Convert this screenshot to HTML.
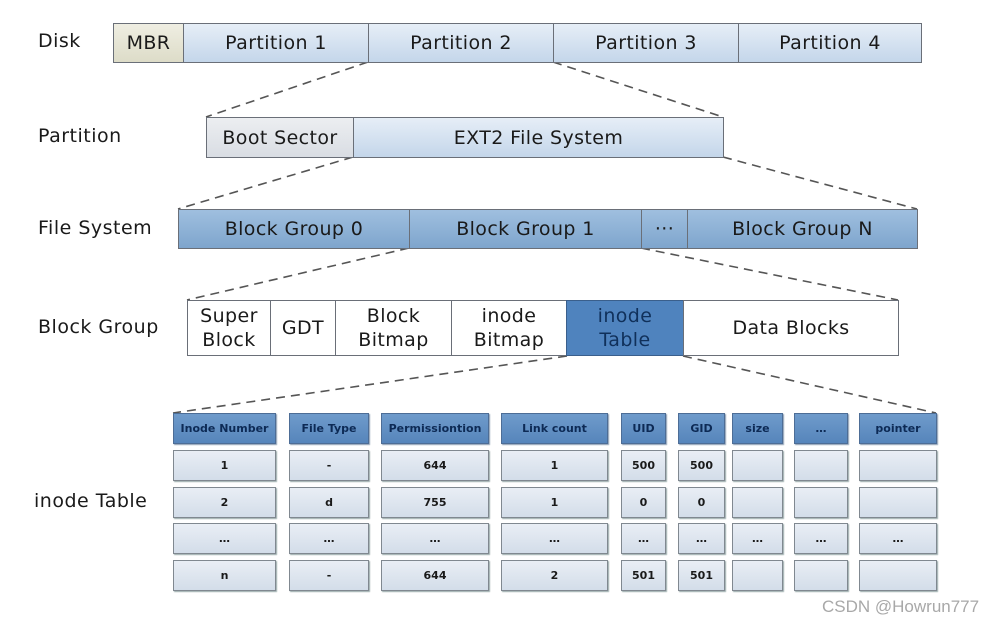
<!DOCTYPE html>
<html><head><meta charset="utf-8"><style>
html,body{margin:0;padding:0;background:#fff;}
body{width:991px;height:625px;position:relative;overflow:hidden;font-family:"DejaVu Sans","Liberation Sans",sans-serif;}
.b{position:absolute;box-sizing:border-box;border:1px solid #6a6f78;display:flex;align-items:center;justify-content:center;text-align:center;color:#1a1a1a;font-size:19px;letter-spacing:0.4px;line-height:24px;}
.lb{position:absolute;font-size:19px;letter-spacing:0.5px;color:#1a1a1a;}
.p{background:linear-gradient(#e6eef7,#c4d6ea);}
.fs{background:linear-gradient(#9fbfdf,#7ea5cd);}
.w{background:#fff;font-size:19px;}
.h{background:linear-gradient(#6f9bcb,#5685bb);font-size:11px;letter-spacing:0;font-weight:bold;color:#0d2a55;border-color:#4d6d96;box-shadow:1px 1px 1px #8a9bb0;}
.c{background:linear-gradient(#e9eef5,#d3dde9);font-size:11px;letter-spacing:0;font-weight:bold;color:#1a1a1a;border-color:#808890;box-shadow:1px 1px 1px #9aa;}
</style></head><body>
<svg width="991" height="625" style="position:absolute;left:0;top:0">
<g stroke="#555" stroke-width="1.6" stroke-dasharray="9,6" fill="none">
<line x1="368" y1="62" x2="206" y2="117"/><line x1="553" y1="62" x2="723" y2="117"/>
<line x1="353" y1="157" x2="178" y2="209"/><line x1="723" y1="157" x2="917" y2="209"/>
<line x1="409" y1="248" x2="187" y2="300"/><line x1="641" y1="248" x2="898" y2="300"/>
<line x1="567" y1="356" x2="173" y2="413"/><line x1="683" y1="356" x2="936" y2="413"/>
</g></svg>

<div class="lb" style="left:38px;top:30px">Disk</div>
<div class="lb" style="left:38px;top:125px">Partition</div>
<div class="lb" style="left:38px;top:217px">File System</div>
<div class="lb" style="left:38px;top:316px">Block Group</div>
<div class="lb" style="left:34px;top:490px">inode Table</div>

<div class="b" style="left:113px;top:23px;width:71px;height:40px;background:linear-gradient(#efeee2,#dddcc8)">MBR</div>
<div class="b p" style="left:183px;top:23px;width:186px;height:40px">Partition 1</div>
<div class="b p" style="left:368px;top:23px;width:186px;height:40px">Partition 2</div>
<div class="b p" style="left:553px;top:23px;width:186px;height:40px">Partition 3</div>
<div class="b p" style="left:738px;top:23px;width:184px;height:40px">Partition 4</div>

<div class="b" style="left:206px;top:117px;width:148px;height:41px;background:linear-gradient(#eceef1,#d9dde3)">Boot Sector</div>
<div class="b p" style="left:353px;top:117px;width:371px;height:41px">EXT2 File System</div>

<div class="b fs" style="left:178px;top:209px;width:232px;height:40px">Block Group 0</div>
<div class="b fs" style="left:409px;top:209px;width:233px;height:40px">Block Group 1</div>
<div class="b fs" style="left:641px;top:209px;width:47px;height:40px">···</div>
<div class="b fs" style="left:687px;top:209px;width:231px;height:40px">Block Group N</div>

<div class="b w" style="left:187px;top:300px;width:84px;height:56px">Super<br>Block</div>
<div class="b w" style="left:270px;top:300px;width:66px;height:56px">GDT</div>
<div class="b w" style="left:335px;top:300px;width:117px;height:56px">Block<br>Bitmap</div>
<div class="b w" style="left:451px;top:300px;width:116px;height:56px">inode<br>Bitmap</div>
<div class="b w" style="left:566px;top:300px;width:118px;height:56px;background:#4f83be;color:#10305a;border-color:#3a5f8c">inode<br>Table</div>
<div class="b w" style="left:683px;top:300px;width:216px;height:56px">Data Blocks</div>

<div class="b h" style="left:173px;top:413px;width:103px;height:31px">Inode Number</div>
<div class="b h" style="left:289px;top:413px;width:80px;height:31px">File Type</div>
<div class="b h" style="left:381px;top:413px;width:108px;height:31px">Permissiontion</div>
<div class="b h" style="left:501px;top:413px;width:107px;height:31px">Link count</div>
<div class="b h" style="left:621px;top:413px;width:45px;height:31px">UID</div>
<div class="b h" style="left:678px;top:413px;width:47px;height:31px">GID</div>
<div class="b h" style="left:732px;top:413px;width:51px;height:31px">size</div>
<div class="b h" style="left:794px;top:413px;width:54px;height:31px">…</div>
<div class="b h" style="left:859px;top:413px;width:78px;height:31px">pointer</div>

<div class="b c" style="left:173px;top:450px;width:103px;height:31px">1</div>
<div class="b c" style="left:289px;top:450px;width:80px;height:31px">-</div>
<div class="b c" style="left:381px;top:450px;width:108px;height:31px">644</div>
<div class="b c" style="left:501px;top:450px;width:107px;height:31px">1</div>
<div class="b c" style="left:621px;top:450px;width:45px;height:31px">500</div>
<div class="b c" style="left:678px;top:450px;width:47px;height:31px">500</div>
<div class="b c" style="left:732px;top:450px;width:51px;height:31px"></div>
<div class="b c" style="left:794px;top:450px;width:54px;height:31px"></div>
<div class="b c" style="left:859px;top:450px;width:78px;height:31px"></div>

<div class="b c" style="left:173px;top:487px;width:103px;height:31px">2</div>
<div class="b c" style="left:289px;top:487px;width:80px;height:31px">d</div>
<div class="b c" style="left:381px;top:487px;width:108px;height:31px">755</div>
<div class="b c" style="left:501px;top:487px;width:107px;height:31px">1</div>
<div class="b c" style="left:621px;top:487px;width:45px;height:31px">0</div>
<div class="b c" style="left:678px;top:487px;width:47px;height:31px">0</div>
<div class="b c" style="left:732px;top:487px;width:51px;height:31px"></div>
<div class="b c" style="left:794px;top:487px;width:54px;height:31px"></div>
<div class="b c" style="left:859px;top:487px;width:78px;height:31px"></div>

<div class="b c" style="left:173px;top:523px;width:103px;height:31px">…</div>
<div class="b c" style="left:289px;top:523px;width:80px;height:31px">…</div>
<div class="b c" style="left:381px;top:523px;width:108px;height:31px">…</div>
<div class="b c" style="left:501px;top:523px;width:107px;height:31px">…</div>
<div class="b c" style="left:621px;top:523px;width:45px;height:31px">…</div>
<div class="b c" style="left:678px;top:523px;width:47px;height:31px">…</div>
<div class="b c" style="left:732px;top:523px;width:51px;height:31px">…</div>
<div class="b c" style="left:794px;top:523px;width:54px;height:31px">…</div>
<div class="b c" style="left:859px;top:523px;width:78px;height:31px">…</div>

<div class="b c" style="left:173px;top:560px;width:103px;height:31px">n</div>
<div class="b c" style="left:289px;top:560px;width:80px;height:31px">-</div>
<div class="b c" style="left:381px;top:560px;width:108px;height:31px">644</div>
<div class="b c" style="left:501px;top:560px;width:107px;height:31px">2</div>
<div class="b c" style="left:621px;top:560px;width:45px;height:31px">501</div>
<div class="b c" style="left:678px;top:560px;width:47px;height:31px">501</div>
<div class="b c" style="left:732px;top:560px;width:51px;height:31px"></div>
<div class="b c" style="left:794px;top:560px;width:54px;height:31px"></div>
<div class="b c" style="left:859px;top:560px;width:78px;height:31px"></div>

<div style="position:absolute;left:822px;top:597px;font-family:'Liberation Sans',sans-serif;font-size:17px;color:#a8a8a8">CSDN @Howrun777</div>
</body></html>
